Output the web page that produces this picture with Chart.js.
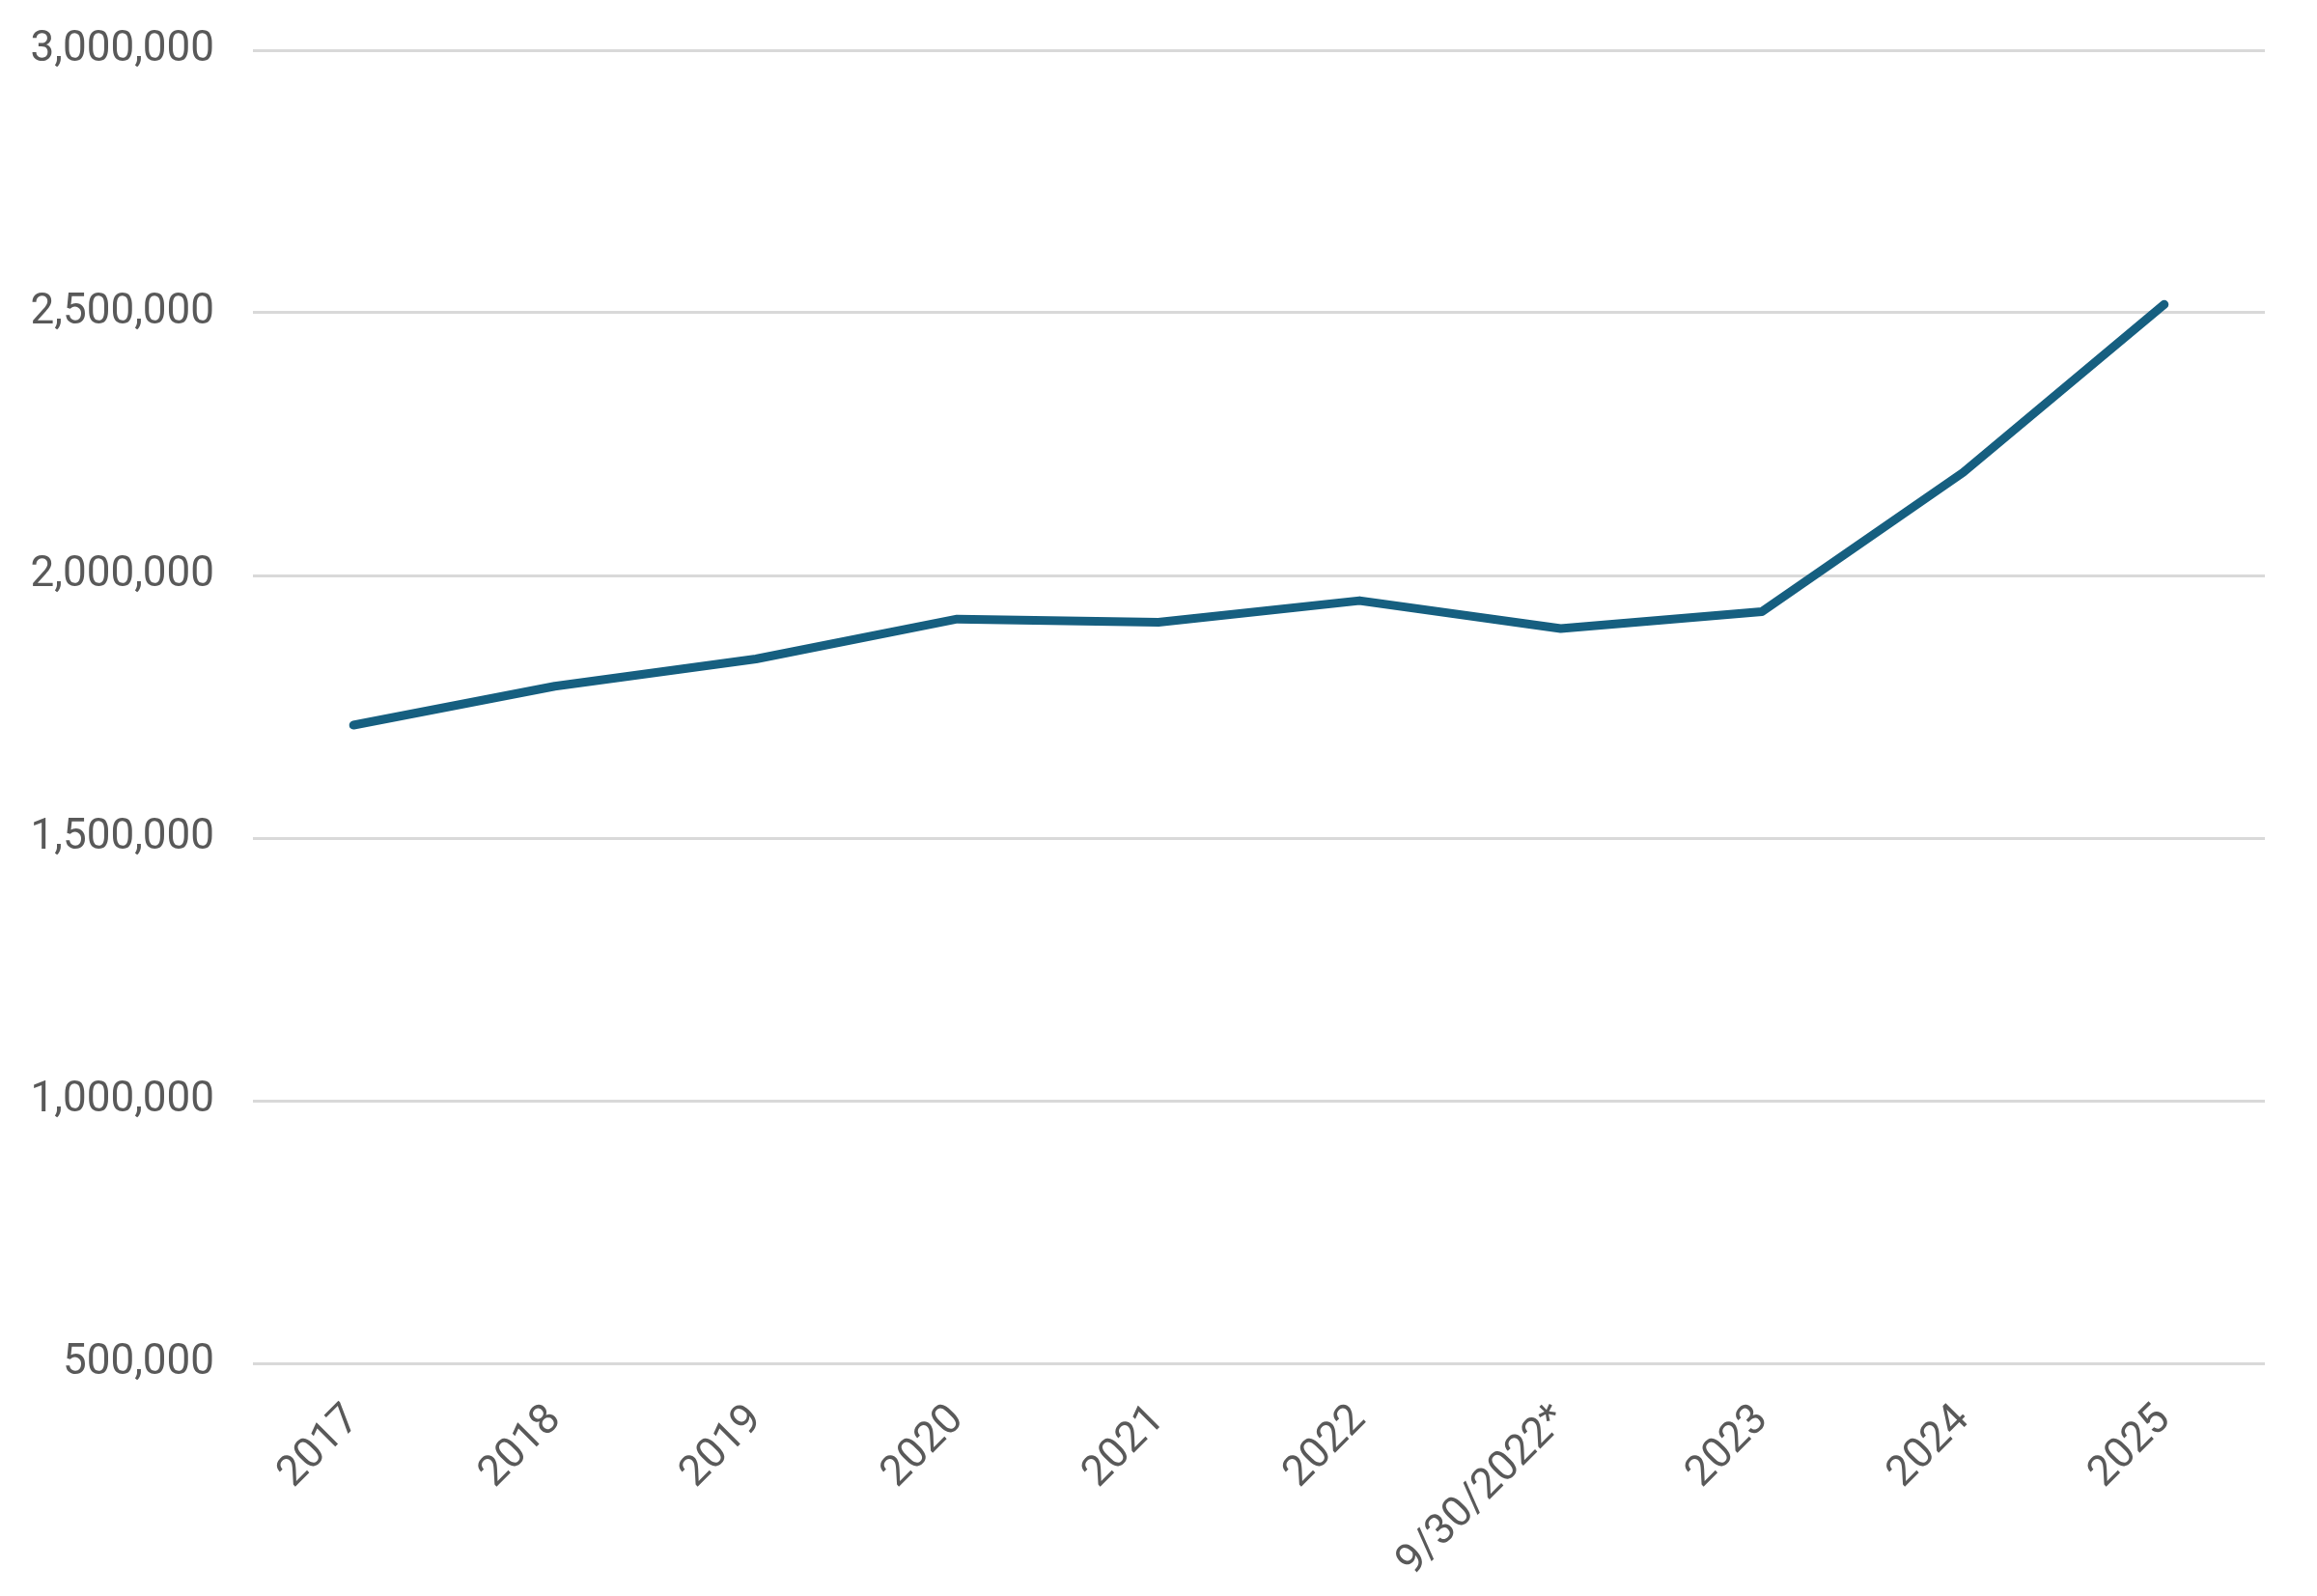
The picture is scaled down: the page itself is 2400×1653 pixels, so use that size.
<!DOCTYPE html>
<html>
<head>
<meta charset="utf-8">
<title>Line chart</title>
<script src="https://cdn.jsdelivr.net/npm/chart.js@4.4.1/dist/chart.umd.min.js"></script>
<style>
  html, body { margin: 0; padding: 0; background: #ffffff; }
  #chart { display: block; }
</style>
</head>
<body>
<canvas id="chart" width="2400" height="1653"></canvas>
<script>
// Data
const labels = ['2017', '2018', '2019', '2020', '2021', '2022', '9/30/2022*', '2023', '2024', '2025'];
const values = [1715000, 1789000, 1841000, 1917000, 1911000, 1952000, 1899000, 1931000, 2196000, 2516000];

// Y axis range
const yMin = 500000;
const yMax = 3000000;
const yStep = 500000;

const textColor = '#595959';
const gridColor = '#d9d9d9';
const lineColor = '#165f80';

const ctx = document.getElementById('chart').getContext('2d');

new Chart(ctx, {
    type: 'line',
    data: {
        labels: labels,
        datasets: [{
            data: values,
            borderColor: lineColor,
            backgroundColor: lineColor,
            borderWidth: 9,
            borderCapStyle: 'round',
            borderJoinStyle: 'round',
            pointRadius: 0,
            tension: 0,
            fill: false
        }]
    },
    options: {
        responsive: false,
        animation: false,
        layout: {
            padding: { left: 0, right: 54, top: 0, bottom: 0 }
        },
        plugins: {
            legend: { display: false },
            tooltip: { enabled: false }
        },
        scales: {
            x: {
                offset: true,
                grid: { display: false, drawTicks: false },
                border: { display: false },
                afterFit: axis => { axis.height = 241; },
                ticks: {
                    color: textColor,
                    font: { family: 'Roboto', size: 44 },
                    maxRotation: 45,
                    minRotation: 45,
                    padding: 33,
                    autoSkip: false
                }
            },
            y: {
                min: yMin,
                max: yMax,
                grid: {
                    color: gridColor,
                    lineWidth: 3,
                    drawTicks: false
                },
                border: { display: false },
                afterFit: axis => {
                    axis.width = 262;
                    axis.paddingTop = 52;
                    axis.paddingBottom = 0;
                },
                ticks: {
                    stepSize: yStep,
                    color: textColor,
                    font: { family: 'Roboto', size: 44 },
                    padding: 40,
                    callback: v => v.toLocaleString('en-US')
                }
            }
        }
    }
});
</script>
</body>
</html>
